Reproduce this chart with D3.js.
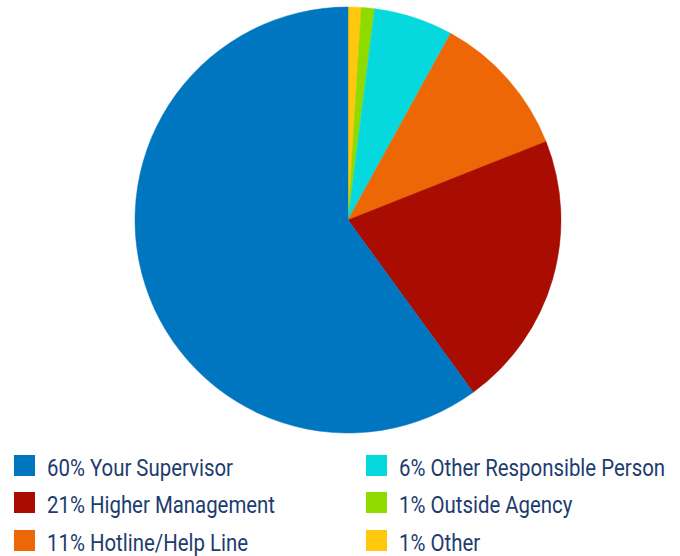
<!DOCTYPE html>
<html>
<head>
<meta charset="utf-8">
<script src="https://cdn.jsdelivr.net/npm/d3@7"></script>
<style>
  html, body { margin: 0; padding: 0; background: #ffffff; }
  svg { display: block; }
</style>
</head>
<body>
<svg id="chart" width="680" height="556"></svg>
<script>
// Slices, in clockwise order from 12 o'clock
const sliceNames  = ["Other", "Outside Agency", "Other Responsible Person", "Hotline/Help Line", "Higher Management", "Your Supervisor"];
const sliceValues = [1, 1, 6, 11, 21, 60];
const sliceColors = ["#ffc80c", "#8fdb00", "#06d9de", "#ee6707", "#a90c00", "#0076c0"];

// Legend entries, column by column
const legendNames = ["Your Supervisor", "Higher Management", "Hotline/Help Line",
                     "Other Responsible Person", "Outside Agency", "Other"];

const svg = d3.select("#chart");
const cx = 348, cy = 220, radius = 213;

const color = d3.scaleOrdinal().domain(sliceNames).range(sliceColors);
const valueOf = new Map(sliceNames.map((n, i) => [n, sliceValues[i]]));

const pie = d3.pie().sort(null).value(d => d.value);
const arc = d3.arc().innerRadius(0).outerRadius(radius);

const data = sliceNames.map((name, i) => ({ name, value: sliceValues[i] }));

svg.append("g")
  .attr("transform", `translate(${cx},${cy})`)
  .selectAll("path")
  .data(pie(data))
  .join("path")
  .attr("d", arc)
  .attr("fill", d => color(d.data.name))
  .attr("stroke", d => color(d.data.name))
  .attr("stroke-width", 0.5);

// Legend: two columns of three rows
const colX = [14, 366];
const rowY = [476, 513, 551];
const box = 21;

const legend = svg.append("g")
  .selectAll("g")
  .data(legendNames)
  .join("g")
  .attr("transform", (d, i) => `translate(${colX[Math.floor(i / 3)]},${rowY[i % 3]})`);

legend.append("rect")
  .attr("x", 0)
  .attr("y", -box)
  .attr("width", box)
  .attr("height", box)
  .attr("fill", d => color(d));

legend.append("text")
  .attr("transform", "translate(33,0) scale(0.85,1)")
  .attr("font-family", "Roboto, 'Liberation Sans', sans-serif")
  .attr("font-size", 24)
  .attr("fill", "#203c6e")
  .text(d => `${valueOf.get(d)}% ${d}`);
</script>
</body>
</html>
